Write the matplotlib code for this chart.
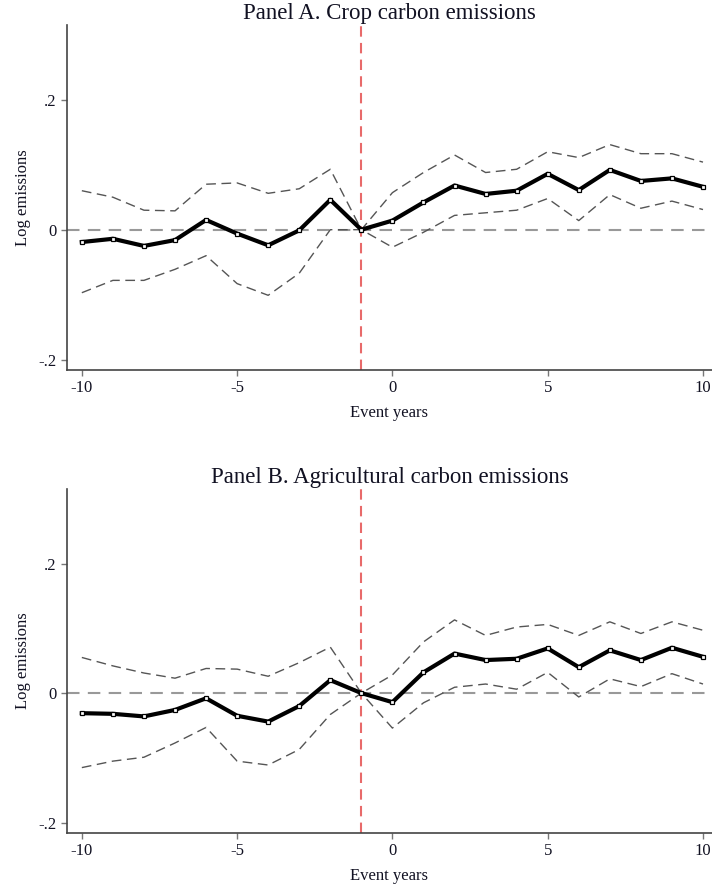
import numpy as np
import matplotlib.pyplot as plt

plt.rcParams['font.family'] = ['Liberation Serif', 'DejaVu Serif']

years = list(range(-10, 11))

# Panel A: crop carbon emissions
crop_est = [-0.019, -0.014, -0.025, -0.016, 0.015, -0.006, -0.024, -0.001, 0.046, 0.0,
            0.014, 0.042, 0.068, 0.055, 0.060, 0.086, 0.061, 0.092, 0.075, 0.079, 0.066]
crop_hi = [0.060, 0.050, 0.030, 0.029, 0.070, 0.072, 0.056, 0.063, 0.093, 0.0,
           0.057, 0.088, 0.115, 0.088, 0.093, 0.120, 0.111, 0.131, 0.117, 0.117, 0.104]
crop_lo = [-0.097, -0.078, -0.078, -0.061, -0.040, -0.083, -0.101, -0.067, 0.0, 0.0,
           -0.027, -0.004, 0.022, 0.026, 0.030, 0.048, 0.014, 0.054, 0.033, 0.044, 0.031]

# Panel B: agricultural carbon emissions
agri_est = [-0.031, -0.032, -0.036, -0.026, -0.008, -0.035, -0.044, -0.020, 0.020, 0.0,
            -0.014, 0.032, 0.061, 0.051, 0.053, 0.069, 0.040, 0.066, 0.051, 0.070, 0.056]
agri_hi = [0.055, 0.042, 0.031, 0.023, 0.038, 0.037, 0.026, 0.047, 0.071, 0.0,
           0.028, 0.079, 0.113, 0.089, 0.102, 0.106, 0.089, 0.110, 0.092, 0.110, 0.097]
agri_lo = [-0.115, -0.105, -0.099, -0.077, -0.053, -0.105, -0.111, -0.087, -0.033, 0.0,
           -0.054, -0.015, 0.009, 0.014, 0.006, 0.032, -0.006, 0.022, 0.010, 0.030, 0.014]

titles = ["Panel A. Crop carbon emissions", "Panel B. Agricultural carbon emissions"]
panels = [(crop_est, crop_hi, crop_lo), (agri_est, agri_hi, agri_lo)]
positions = [[0.094, 0.5833, 0.906, 0.3885], [0.094, 0.0619, 0.906, 0.3874]]

txt = '#111122'
fig = plt.figure(figsize=(7.12, 8.88), dpi=100)

for pos, title, (est, hi, lo) in zip(positions, titles, panels):
    ax = fig.add_axes(pos)
    ax.axhline(0, color='#999999', lw=1.5, ls=(0, (6, 4)), zorder=1)
    ax.axvline(-1, color='#e86a6a', lw=1.5, ls=(0, (5, 3)), zorder=1)
    ax.plot(years, hi, color='#555555', lw=1.0, ls=(0, (7, 4)), zorder=2)
    ax.plot(years, lo, color='#555555', lw=1.0, ls=(0, (7, 4)), zorder=2)
    ax.plot(years, est, color='black', lw=3, marker='s', ms=3.5,
            mfc='white', mec='black', mew=0.9, zorder=3)

    ax.set_xlim(-10.48, 10.29)
    ax.set_ylim(-0.216, 0.315)
    ax.set_xticks([-10, -5, 0, 5, 10])
    ax.set_xticklabels(['-10', '-5', '0', '5', '10'])
    ax.set_yticks([-0.2, 0, 0.2])
    ax.set_yticklabels(['-.2', '0', '.2'])
    ax.tick_params(colors='#777777', labelcolor=txt, labelsize=12, length=4, width=1)

    for s in ['top', 'right']:
        ax.spines[s].set_visible(False)
    for s in ['left', 'bottom']:
        ax.spines[s].set_color('#444444')
        ax.spines[s].set_linewidth(1.2)

    ax.set_title(title, fontsize=16.5, color=txt, pad=4)
    ax.set_xlabel('Event years', fontsize=12, color=txt, labelpad=6)
    ax.set_ylabel('Log emissions', fontsize=12, color=txt, labelpad=5)

fig.savefig('out.png', dpi=100)
